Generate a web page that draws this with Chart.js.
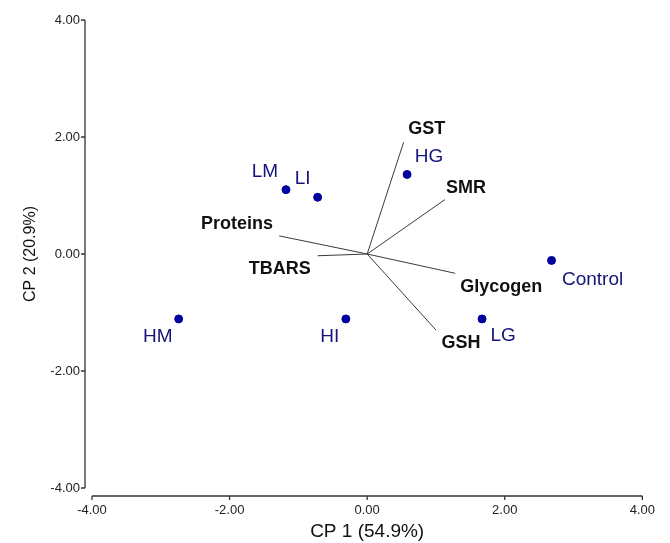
<!DOCTYPE html>
<html>
<head>
<meta charset="utf-8">
<script src="https://cdn.jsdelivr.net/npm/chart.js@4"></script>
<style>
  body { margin: 0; background: #fff; }
  #wrap { width: 670px; height: 543px; }
</style>
</head>
<body>
<div id="wrap"><canvas id="biplot" width="670" height="543"></canvas></div>
<script>
// samples (scores)
const sampleNames = ['LM', 'LI', 'HG', 'HM', 'HI', 'LG', 'Control'];
const sampleX = [-1.18, -0.72, 0.58, -2.74, -0.31, 1.67, 2.68];
const sampleY = [1.10, 0.97, 1.36, -1.11, -1.11, -1.11, -0.11];

// variables (loadings)
const varNames = ['GST', 'SMR', 'Proteins', 'TBARS', 'Glycogen', 'GSH'];
const varX = [0.53, 1.13, -1.28, -0.72, 1.28, 1.00];
const varY = [1.91, 0.93, 0.31, -0.03, -0.33, -1.30];

const tickValues = [-4, -2, 0, 2, 4];

// label placement, pixels from the mark
const sampleLabelOffset = {
  LM: [-21, -18], LI: [-15, -18], HG: [22, -18],
  HM: [-21, 18], HI: [-16, 18], LG: [21, 17], Control: [41, 19]
};
const varLabelOffset = {
  GST: [23, -13], SMR: [21, -12], Proteins: [-42, -12],
  TBARS: [-38, 13], Glycogen: [46, 14], GSH: [25, 13]
};

const FONT = 'Arial, "Liberation Sans", sans-serif';

const datasets = [{
  label: 'samples',
  data: sampleNames.map((n, i) => ({ x: sampleX[i], y: sampleY[i] })),
  pointRadius: 4,
  pointBackgroundColor: '#00009c',
  pointBorderColor: '#00009c',
  showLine: false
}];

varNames.forEach((n, i) => {
  datasets.push({
    label: n,
    data: [{ x: 0, y: 0 }, { x: varX[i], y: varY[i] }],
    showLine: true,
    borderColor: '#3a3a3a',
    borderWidth: 1,
    pointRadius: 0
  });
});

// axes are detached from the plot area, so draw them here
const axesPlugin = {
  id: 'axes',
  afterDraw(chart) {
    const { ctx, scales: { x, y } } = chart;
    const ax = chart.chartArea.left - 7;
    const ay = chart.chartArea.bottom + 8;
    ctx.save();
    ctx.strokeStyle = '#333';
    ctx.lineWidth = 1.3;
    ctx.beginPath();
    ctx.moveTo(ax, y.getPixelForValue(4));
    ctx.lineTo(ax, y.getPixelForValue(-4));
    tickValues.forEach(v => {
      const py = y.getPixelForValue(v);
      ctx.moveTo(ax, py);
      ctx.lineTo(ax - 4, py);
    });
    ctx.moveTo(x.getPixelForValue(-4), ay);
    ctx.lineTo(x.getPixelForValue(4), ay);
    tickValues.forEach(v => {
      const px = x.getPixelForValue(v);
      ctx.moveTo(px, ay);
      ctx.lineTo(px, ay + 4);
    });
    ctx.stroke();

    ctx.textAlign = 'center';
    ctx.textBaseline = 'middle';
    ctx.fillStyle = '#14147a';
    ctx.font = '19px ' + FONT;
    sampleNames.forEach((n, i) => {
      const o = sampleLabelOffset[n];
      ctx.fillText(n, x.getPixelForValue(sampleX[i]) + o[0], y.getPixelForValue(sampleY[i]) + o[1]);
    });
    ctx.fillStyle = '#111';
    ctx.font = 'bold 18px ' + FONT;
    varNames.forEach((n, i) => {
      const o = varLabelOffset[n];
      ctx.fillText(n, x.getPixelForValue(varX[i]) + o[0], y.getPixelForValue(varY[i]) + o[1]);
    });
    ctx.restore();
  }
};

new Chart(document.getElementById('biplot'), {
  type: 'scatter',
  data: { datasets },
  options: {
    responsive: false,
    animation: false,
    devicePixelRatio: 1,
    layout: { padding: { top: 20, right: 27, left: 0, bottom: 0 } },
    plugins: { legend: { display: false }, tooltip: { enabled: false } },
    scales: {
      x: {
        min: -4, max: 4,
        afterFit: s => { s.height = 55; },
        border: { display: false },
        grid: { display: false, drawTicks: false },
        ticks: {
          stepSize: 2, padding: 15, color: '#222',
          font: { family: FONT, size: 13 },
          callback: v => v.toFixed(2)
        },
        title: {
          display: true, text: 'CP 1 (54.9%)', color: '#111',
          font: { family: FONT, size: 19 },
          padding: { top: 0, bottom: 0 }
        }
      },
      y: {
        min: -4, max: 4,
        afterFit: s => { s.width = 92; },
        border: { display: false },
        grid: { display: false, drawTicks: false },
        ticks: {
          stepSize: 2, padding: 12, color: '#222',
          font: { family: FONT, size: 13 },
          callback: v => v.toFixed(2)
        },
        title: {
          display: true, text: 'CP 2 (20.9%)', color: '#111',
          font: { family: FONT, size: 16 },
          padding: { top: 21, bottom: 0 }
        }
      }
    }
  },
  plugins: [axesPlugin]
});
</script>
</body>
</html>
